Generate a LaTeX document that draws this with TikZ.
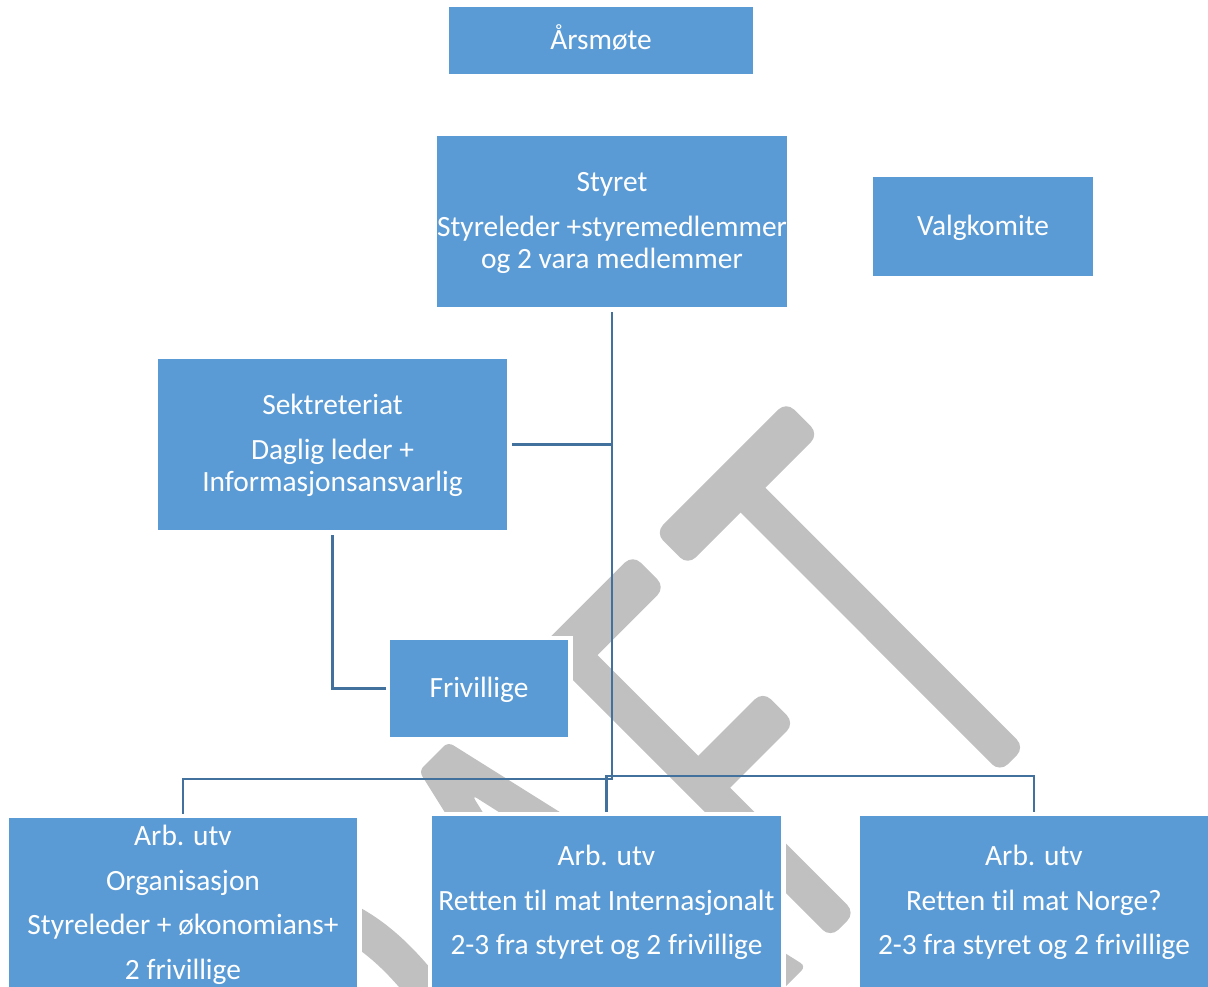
\documentclass[tikz,border=0pt]{standalone}
\usepackage{fontspec}
\setmainfont{Carlito}[Ligatures={NoCommon,NoContextual}]
\usetikzlibrary{calc}
\pgfdeclarelayer{wm}
\pgfdeclarelayer{cn}
\pgfsetlayers{wm,cn,main}
\definecolor{boxblue}{HTML}{5B9BD5}
\definecolor{linblue}{HTML}{41719C}
\definecolor{wmgray}{HTML}{C0C0C0}
\newcommand\topstr{\rule{0pt}{24pt}}
\newcommand\botstr{\rule[-6.4pt]{0pt}{6.4pt}}
\newcommand\wmbar[3]{%
  \fill[wmfill, rounded corners=11pt] ($(#1)!#3!90:(#2)$) -- ($(#2)!#3!-90:(#1)$) -- ($(#2)!#3!90:(#1)$) -- ($(#1)!#3!-90:(#2)$) -- cycle;}
\tikzset{
  orgbox/.style={fill=boxblue, text=white, align=center, inner sep=0pt, outer sep=0pt,
    font=\fontsize{29.4pt}{32.5pt}\selectfont, preaction={draw=white, line width=9pt}},
  conn/.style={draw=linblue, line width=2.6pt},
  wmfill/.style={fill=wmgray}
}
\begin{document}
\begin{tikzpicture}[x=1pt, y=-1pt]
\useasboundingbox (0,0) rectangle (1208,987);

% boxes
\node[orgbox, minimum width=304pt, minimum height=67pt] (aarsmote) at (601,40.5) {\topstr Årsmøte\botstr};
\node[orgbox, minimum width=350pt, minimum height=171pt] (styret) at (612,221.5)
  {\topstr Styret\\[12pt]Styreleder +styremedlemmer\\og 2 vara medlemmer\botstr};
\node[orgbox, minimum width=220pt, minimum height=99pt] (valg) at (983,226.5) {\topstr Valgkomite\botstr};
\node[orgbox, minimum width=349pt, minimum height=171pt] (sek) at (332.5,444.5)
  {\topstr Sektreteriat\\[12pt]Daglig leder +\\Informasjonsansvarlig\botstr};
\node[orgbox, minimum width=178pt, minimum height=97pt] (friv) at (479,688.5) {\topstr Frivillige\botstr};
\node[orgbox, minimum width=348pt, minimum height=171pt] (arb1) at (183,903.5)
  {\topstr Arb. utv\\[12pt]Organisasjon\\[12pt]Styreleder + økonomians+\\[12pt]2 frivillige\botstr};
\node[orgbox, minimum width=349pt, minimum height=171pt] (arb2) at (606.5,901.5)
  {\topstr Arb. utv\\[12pt]Retten til mat Internasjonalt\\[12pt]2-3 fra styret og 2 frivillige\botstr};
\node[orgbox, minimum width=348pt, minimum height=171pt] (arb3) at (1034,901.5)
  {\topstr Arb. utv\\[12pt]Retten til mat Norge?\\[12pt]2-3 fra styret og 2 frivillige\botstr};

% connectors
\begin{pgfonlayer}{cn}
\draw[conn] (styret.south) -- ++(0,472) -| (arb1.north);
\draw[conn] (styret.south) -- ++(0,469) -| (arb2.north);
\draw[conn] (styret.south) -- ++(0,469) -| (arb3.north);
\draw[conn] (sek.east) -- (sek.east -| styret.south);
\draw[conn] (sek.south) |- (friv.west);
\end{pgfonlayer}

% watermark
\begin{pgfonlayer}{wm}
\fill[white] (0,0) rectangle (1208,987);
\begin{scope}
\clip (0,0) rectangle (1208,987);
% T
\wmbar{671.5,549}{802.5,418}{23pt}
\wmbar{737,484}{1012.25,759.75}{17.5pt}
% F
\wmbar{556,664}{649,571}{23pt}
\wmbar{552.75,635.25}{842.75,925.25}{17.5pt}
\wmbar{701.75,784.25}{778.75,707.25}{22.5pt}
% A
\fill[wmfill, rounded corners=6pt] (419,771) -- (448,742) -- (805.8,966.2) -- (781,991) -- (472,795) -- (597,995) -- (559,995) -- cycle;
% R (bowl)
\draw[wmgray, line width=36pt] (330,913) .. controls (370,930) and (400,955) .. (440,1010);
\end{scope}
\end{pgfonlayer}
\end{tikzpicture}
\end{document}
